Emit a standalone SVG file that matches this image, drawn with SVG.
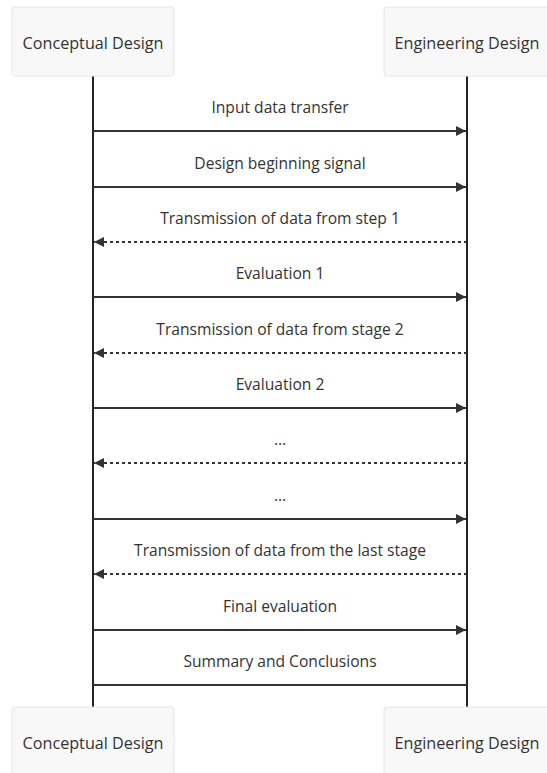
<svg xmlns="http://www.w3.org/2000/svg" width="547" height="773" viewBox="0 0 547 773">
  <style>
    .actor rect { fill: #f8f8f8; stroke: #e6e6e6; stroke-width: 1; }
    .actor text { font-family: "Open Sans", "Noto Sans", sans-serif; font-size: 16.2px; fill: #333333; text-anchor: middle; }
    .life { stroke: #222222; stroke-width: 2; fill: none; }
    .msg { stroke: #333333; stroke-width: 2; fill: none; }
    .dash { stroke-dasharray: 3 3; }
    .label { font-family: "Open Sans", "Noto Sans", sans-serif; font-size: 15.6px; fill: #333333; text-anchor: middle; }
  </style>
  <defs>
    <marker id="head" viewBox="0 0 10 10" refX="10" refY="5" markerWidth="10" markerHeight="10" markerUnits="userSpaceOnUse" orient="auto">
      <path d="M0,0 L10,5 L0,10 z" fill="#333333"/>
    </marker>
  </defs>

  <rect width="547" height="773" fill="#ffffff"/>

  <!-- lifelines -->
  <g id="lifelines">
    <line class="life" x1="93" y1="76" x2="93" y2="707"/>
    <line class="life" x1="467" y1="76" x2="467" y2="707"/>
  </g>

  <!-- participants, top and bottom -->
  <g id="conceptual-top" class="actor">
    <rect x="12" y="7" width="162" height="69" rx="3"/>
    <text x="93" y="49">Conceptual Design</text>
  </g>
  <g id="engineering-top" class="actor">
    <rect x="384" y="7" width="166" height="69" rx="3"/>
    <text x="467" y="49">Engineering Design</text>
  </g>
  <g id="conceptual-bottom" class="actor">
    <rect x="12" y="707" width="162" height="69" rx="3"/>
    <text x="93" y="749">Conceptual Design</text>
  </g>
  <g id="engineering-bottom" class="actor">
    <rect x="384" y="707" width="166" height="69" rx="3"/>
    <text x="467" y="749">Engineering Design</text>
  </g>

  <!-- messages -->
  <g id="messages">
    <line class="msg" x1="93" y1="131" x2="466" y2="131" marker-end="url(#head)"/>
    <line class="msg" x1="93" y1="187" x2="466" y2="187" marker-end="url(#head)"/>
    <line class="msg dash" x1="467" y1="242" x2="94" y2="242" marker-end="url(#head)"/>
    <line class="msg" x1="93" y1="297" x2="466" y2="297" marker-end="url(#head)"/>
    <line class="msg dash" x1="467" y1="353" x2="94" y2="353" marker-end="url(#head)"/>
    <line class="msg" x1="93" y1="408" x2="466" y2="408" marker-end="url(#head)"/>
    <line class="msg dash" x1="467" y1="463" x2="94" y2="463" marker-end="url(#head)"/>
    <line class="msg" x1="93" y1="519" x2="466" y2="519" marker-end="url(#head)"/>
    <line class="msg dash" x1="467" y1="574" x2="94" y2="574" marker-end="url(#head)"/>
    <line class="msg" x1="93" y1="630" x2="466" y2="630" marker-end="url(#head)"/>
    <line class="msg" x1="93" y1="685" x2="467" y2="685"/>
  </g>

  <g id="labels">
    <text class="label" x="280" y="113">Input data transfer</text>
    <text class="label" x="280" y="169">Design beginning signal</text>
    <text class="label" x="280" y="224">Transmission of data from step 1</text>
    <text class="label" x="280" y="279">Evaluation 1</text>
    <text class="label" x="280" y="335">Transmission of data from stage 2</text>
    <text class="label" x="280" y="390">Evaluation 2</text>
    <text class="label" x="280" y="445">…</text>
    <text class="label" x="280" y="501">…</text>
    <text class="label" x="280" y="556">Transmission of data from the last stage</text>
    <text class="label" x="280" y="612">Final evaluation</text>
    <text class="label" x="280" y="667">Summary and Conclusions</text>
  </g>
</svg>
